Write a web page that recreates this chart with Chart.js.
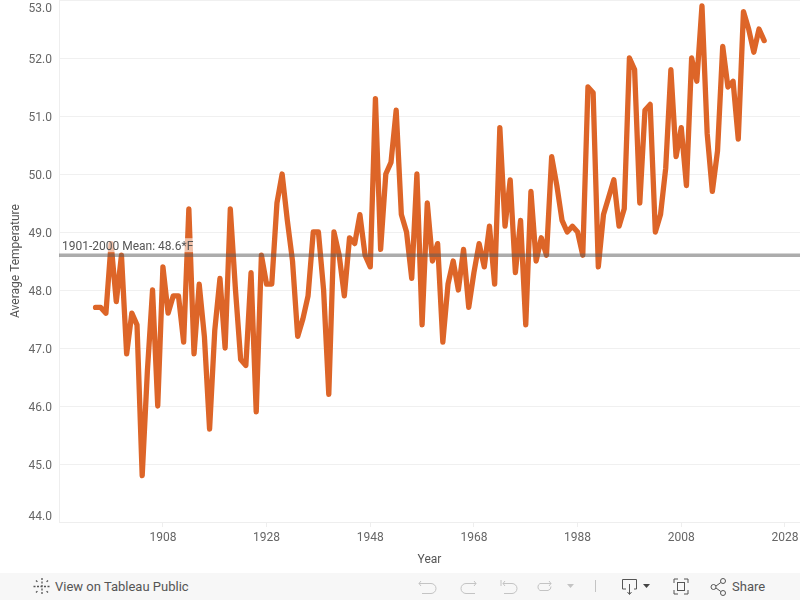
<!DOCTYPE html>
<html>
<head>
<meta charset="utf-8">
<title>Average Temperature</title>
<script src="https://cdn.jsdelivr.net/npm/chart.js@4"></script>
<style>
html,body{margin:0;padding:0;background:#fff;width:800px;height:600px;overflow:hidden;font-family:Roboto,sans-serif}
#wrap{position:absolute;left:0;top:0;width:800px;height:573px}
#bar{position:absolute;left:0;top:573px;width:800px;height:27px;background:#f7f7f7}
#bar span{position:absolute;top:6px;font-size:13px;line-height:16px;color:#555}
#bar svg{position:absolute;left:0;top:0}
</style>
</head>
<body>
<div id="wrap"><canvas id="c" width="800" height="573"></canvas></div>
<div id="bar">
<svg width="800" height="27" fill="none" stroke-width="1">
<g stroke="#555">
<path d="M42 5v17M33.500 13.500h17M36 7.500l2 2M48 7.500l-2 2M36 19.500l2-2M48 19.500l-2-2" stroke-dasharray="2 1.500" stroke-width="1.300"/>
</g>
<g stroke="#c4c4c4">
<path d="M421 8l-2 2.500 2 2.500M419 10.500h12a5 5 0 0 1 0 10h-9"/>
<path d="M474 8l2 2.500-2 2.500M476 10.500h-10a5 5 0 0 0 0 10h9"/>
<path d="M501 7v6M505 8l-2 2.500 2 2.500M503 10.500h9a5 5 0 0 1 0 10h-8"/>
<path d="M549 8l2 2.500-2 2.500M551 10.500h-11a4 4 0 0 0 0 7h8a4 4 0 0 0 3-4"/>
</g>
<path d="M567 11h7l-3.500 4z" fill="#c4c4c4"/>
<path d="M595.500 7v12" stroke="#c4c4c4"/>
<g stroke="#555">
<path d="M626 16h-3.500V6.500h14V16H634M629.500 11v10M627.500 19l2 2.500 2-2.500"/>
<path d="M674 10V6h4M684 6h4v4M688 17v4h-4M678 21h-4v-4"/>
<rect x="677.500" y="9.500" width="7" height="8"/>
<circle cx="713.500" cy="14" r="2.500"/><circle cx="723" cy="8" r="2.500"/><circle cx="723" cy="20" r="2.500"/>
<path d="M716 13l4.800-3.500M716 15l4.800 3.500"/>
</g>
<path d="M643 11h7l-3.500 4z" fill="#444"/>
</svg>
<span style="left:55px">View on Tableau Public</span>
<span style="left:732px">Share</span>
</div>
<script>
const years = [1895,1896,1897,1898,1899,1900,1901,1902,1903,1904,1905,1906,1907,1908,1909,1910,1911,1912,1913,1914,1915,1916,1917,1918,1919,1920,1921,1922,1923,1924,1925,1926,1927,1928,1929,1930,1931,1932,1933,1934,1935,1936,1937,1938,1939,1940,1941,1942,1943,1944,1945,1946,1947,1948,1949,1950,1951,1952,1953,1954,1955,1956,1957,1958,1959,1960,1961,1962,1963,1964,1965,1966,1967,1968,1969,1970,1971,1972,1973,1974,1975,1976,1977,1978,1979,1980,1981,1982,1983,1984,1985,1986,1987,1988,1989,1990,1991,1992,1993,1994,1995,1996,1997,1998,1999,2000,2001,2002,2003,2004,2005,2006,2007,2008,2009,2010,2011,2012,2013,2014,2015,2016,2017,2018,2019,2020,2021,2022,2023,2024];
const temps = [47.7,47.7,47.6,48.8,47.8,48.6,46.9,47.6,47.4,44.8,46.6,48.0,46.0,48.4,47.6,47.9,47.9,47.1,49.4,46.9,48.1,47.2,45.6,47.3,48.2,47.0,49.4,48.0,46.8,46.7,48.3,45.9,48.6,48.1,48.1,49.5,50.0,49.2,48.5,47.2,47.5,47.9,49.0,49.0,48.0,46.2,49.0,48.6,47.9,48.9,48.8,49.3,48.6,48.4,51.3,48.7,50.0,50.2,51.1,49.3,49.0,48.2,50.0,47.4,49.5,48.5,48.8,47.1,48.1,48.5,48.0,48.7,47.7,48.3,48.8,48.4,49.1,48.1,50.8,49.1,49.9,48.3,49.2,47.4,49.7,48.5,48.9,48.6,50.3,49.8,49.2,49.0,49.1,49.0,48.6,51.5,51.4,48.4,49.3,49.6,49.9,49.1,49.4,52.0,51.8,49.5,51.1,51.2,49.0,49.3,50.1,51.8,50.3,50.8,49.8,52.0,51.6,52.9,50.7,49.7,50.4,52.2,51.5,51.6,50.6,52.8,52.5,52.1,52.5,52.3];
const xTicks = [1908,1928,1948,1968,1988,2008,2028];
const yTicks = [44,45,46,47,48,49,50,51,52,53];
const meanValue = 48.6;
const meanLabel = "1901-2000 Mean: 48.6*F";
const xRange = [1887.95,2030.91];
const yTitle = "Average Temperature";
const xTitle = "Year";

const font = {family:"Roboto, sans-serif", size:12};
const meanLabelPlugin = {
  id:"meanLabel",
  afterDatasetsDraw(chart){
    const c = chart.ctx, y = chart.scales.y.getPixelForValue(meanValue);
    const x = chart.chartArea.left + 3;
    c.save();
    c.font = "12px Roboto, sans-serif";
    const w = c.measureText(meanLabel).width;
    c.fillStyle = "rgba(255,255,255,0.6)";
    c.fillRect(x, y-17, w+1, 14);
    c.fillStyle = "#555";
    c.textBaseline = "middle";
    c.fillText(meanLabel, x, y-8.5);
    c.restore();
  }
};
new Chart(document.getElementById("c"), {
  type:"scatter",
  plugins:[meanLabelPlugin],
  data:{datasets:[
    {data:years.map((y,i)=>({x:y,y:temps[i]})), showLine:true, borderColor:"#dd6528", borderWidth:5.3,
     borderJoinStyle:"round", borderCapStyle:"round", pointRadius:0, tension:0, clip:false, order:2},
    {data:xRange.map(x=>({x:x,y:meanValue})), showLine:true, borderColor:"rgba(90,90,90,0.5)", borderWidth:3.5,
     pointRadius:0, tension:0, order:1}
  ]},
  options:{
    responsive:false, animation:false, devicePixelRatio:1,
    layout:{padding:0},
    plugins:{legend:{display:false}, tooltip:{enabled:false}},
    scales:{
      x:{type:"linear", min:xRange[0], max:xRange[1],
        afterBuildTicks(s){s.ticks = xTicks.map(v=>({value:v}));},
        afterFit(s){s.height = 51; s.paddingLeft = 0; s.paddingRight = 0;},
        grid:{drawOnChartArea:false, drawTicks:true, tickLength:5, color:"#eeeeee"},
        border:{color:"#eeeeee"},
        ticks:{font, color:"#666", padding:4, maxRotation:0, autoSkip:false,
          callback:v=>String(v)},
        title:{display:true, text:xTitle, font, color:"#555", padding:{top:8,bottom:6}}
      },
      y:{type:"linear", min:44, max:53,
        afterBuildTicks(s){s.ticks = yTicks.map(v=>({value:v}));},
        afterFit(s){s.width = 59; s.paddingTop = 0; s.paddingBottom = 0;},
        afterUpdate(s){
          const orig = s.getLabelItems.bind(s);
          s.getLabelItems = a => orig(a).map(it => ({...it, options:{...it.options,
            translation:[it.options.translation[0], it.options.translation[1]+1]}}));
        },
        grid:{color:"#f0f0f0", drawTicks:false},
        border:{color:"#eeeeee"},
        ticks:{font, color:"#666", padding:7, autoSkip:false,
          callback:v=>{
            const t = v.toFixed(1);
            if (v===yTicks[yTicks.length-1]) return ["",t];
            if (v===yTicks[0]) return [t,""];
            return t;
          }},
        title:{display:true, text:yTitle, font, color:"#555", padding:{top:9,bottom:2}}
      }
    }
  }
});
</script>
</body>
</html>
